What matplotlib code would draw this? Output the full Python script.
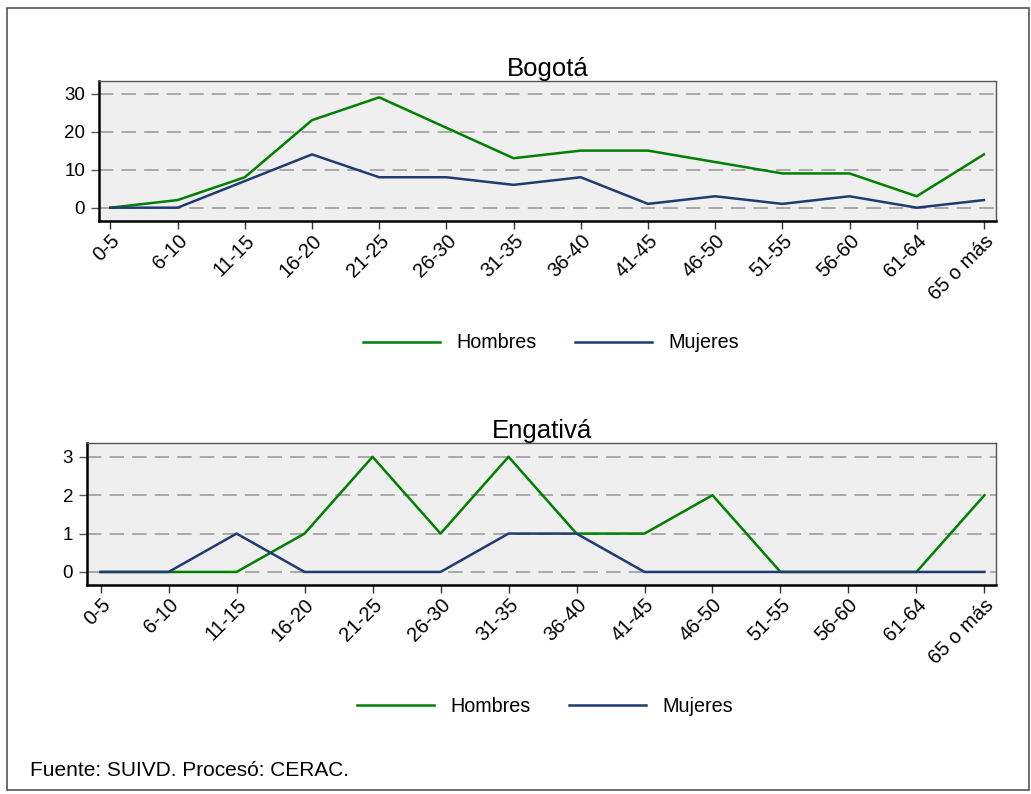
import matplotlib
matplotlib.use("Agg")
import matplotlib.pyplot as plt
from matplotlib import font_manager
from matplotlib.patches import Rectangle

categories = ["0-5", "6-10", "11-15", "16-20", "21-25", "26-30", "31-35",
              "36-40", "41-45", "46-50", "51-55", "56-60", "61-64", "65 o más"]
bogota_hombres = [0, 2, 8, 23, 29, 21, 13, 15, 15, 12, 9, 9, 3, 14]
bogota_mujeres = [0, 0, 7, 14, 8, 8, 6, 8, 1, 3, 1, 3, 0, 2]
engativa_hombres = [0, 0, 0, 1, 3, 1, 3, 1, 1, 2, 0, 0, 0, 2]
engativa_mujeres = [0, 0, 1, 0, 0, 0, 1, 1, 0, 0, 0, 0, 0, 0]
bogota_yticks = [0, 10, 20, 30]
engativa_yticks = [0, 1, 2, 3]

names = {f.name for f in font_manager.fontManager.ttflist}
base = "Liberation Sans" if "Liberation Sans" in names else "DejaVu Sans"
plt.rcParams['font.family'] = [base, 'DejaVu Sans']

GREEN = "#008000"
NAVY = "#1f3b70"

W, H = 1031, 794
fig = plt.figure(figsize=(W / 100, H / 100), dpi=100)
fig.patches.append(Rectangle((7 / W, 4 / H), (1022 / W), (782 / H), transform=fig.transFigure,
                             fill=False, edgecolor="#555555", lw=1.2))


def panel(rect_px, title, hom, muj, yticks, ylim, xlim, leg_x, leg_y):
    l, t, r, b = rect_px
    ax = fig.add_axes([l / W, (H - b) / H, (r - l) / W, (b - t) / H])
    ax.set_facecolor("#efefef")
    x = list(range(len(categories)))
    ax.set_yticks(yticks)
    ax.yaxis.grid(True, linestyle=(0, (8, 4.5)), color="#a3a3a3", lw=1.3)
    ax.set_axisbelow(True)
    lh, = ax.plot(x, hom, color=GREEN, lw=1.8, label="Hombres")
    lm, = ax.plot(x, muj, color=NAVY, lw=1.8, label="Mujeres")
    ax.set_xlim(*xlim)
    ax.set_ylim(*ylim)
    ax.set_xticks(x)
    ax.set_xticklabels(categories, rotation=45, ha="right", va="top",
                       rotation_mode="anchor", fontsize=14.5)
    ax.tick_params(axis="x", length=5.5, width=1, pad=2, color="#333333")
    ax.tick_params(axis="y", length=6, width=1, labelsize=13.5, pad=4, color="#555555")
    for s in ["left", "bottom"]:
        ax.spines[s].set_linewidth(1.8)
        ax.spines[s].set_color("black")
    for s in ["top", "right"]:
        ax.spines[s].set_linewidth(1.0)
        ax.spines[s].set_color("#555555")
    ax.set_title(title, fontsize=18.5, pad=3)
    fig.legend(handles=[lh, lm], loc="center", bbox_to_anchor=(leg_x / W, (H - leg_y) / H),
               ncol=2, frameon=False, fontsize=14.2, handlelength=3.9, handletextpad=0.85,
               columnspacing=1.95)
    return ax


panel((99, 81, 996, 221), "Bogotá", bogota_hombres, bogota_mujeres,
      bogota_yticks, (-3.5, 33.3), (-0.17, 13.18), 551, 343)
panel((87, 443, 996, 585), "Engativá", engativa_hombres, engativa_mujeres,
      engativa_yticks, (-0.34, 3.36), (-0.2, 13.17), 545, 706)

fig.text(30 / W, (H - 770) / H, "Fuente: SUIVD. Procesó: CERAC.", fontsize=15,
         va="center", ha="left")

fig.savefig("out.png", dpi=100)
